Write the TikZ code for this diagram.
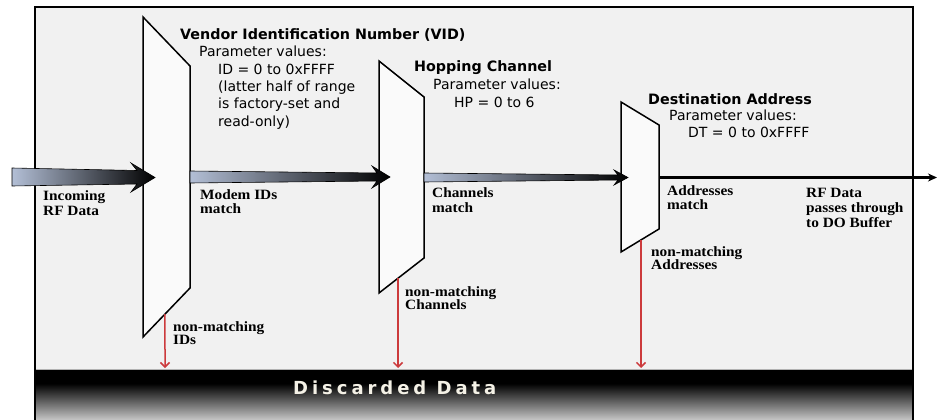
\documentclass[tikz,border=0pt]{standalone}
\usepackage{fontspec}
\setmainfont{DejaVu Sans}
\newfontfamily\labfont[FakeStretch=1.08]{Liberation Serif}
\newfontfamily\discfont[LetterSpace=22]{DejaVu Sans}
\usetikzlibrary{arrows.meta,calc}
\definecolor{panel}{HTML}{F1F1F1}
\definecolor{filt}{HTML}{FAFAFA}
\definecolor{steel}{HTML}{B3BFD6}
\definecolor{rejred}{HTML}{CC3A3C}
\definecolor{disctext}{HTML}{F4F1E6}
\begin{document}
\begin{tikzpicture}[x=1pt,y=-1pt,
  sanst/.style={anchor=base west,inner sep=0pt,font=\fontsize{14}{17}\selectfont},
  sansb/.style={anchor=base west,inner sep=0pt,font=\fontsize{14.3}{17}\selectfont\bfseries},
  lab/.style={anchor=base west,inner sep=0pt,font=\labfont\bfseries\fontsize{14.2}{15}\selectfont},
  filter/.style={fill=filt,draw=black,line width=1.5pt,line join=miter},
  flow/.style={left color=steel,right color=black,draw=black,line width=0.6pt},
  reject/.style={draw=rejred,line width=1.5pt,-{Straight Barb[length=4.5pt,width=9pt,line width=1.5pt]}},
]
\useasboundingbox (0,0) rectangle (938,420);
\begin{scope}
\clip (0,0) rectangle (938,420);
\fill[panel] (35,7) rectangle (913,430);
\fill[black] (35,370) rectangle (913,384);
\shade[top color=black,bottom color=gray!40] (35,383.5) rectangle (913,421);
\draw[gray!60,line width=0.8pt] (35,369.5) -- (913,369.5);
\draw[line width=1.5pt] (35,430) -- (35,7) -- (913,7) -- (913,430);
\end{scope}

% filters
\draw[filter] (143,17) coordinate (f1a) -- (190,66) coordinate (f1b) -- (190,288) coordinate (f1c) -- (143,337) coordinate (f1d) -- cycle;
\draw[filter] (379,61) coordinate (f2a) -- (424,97) coordinate (f2b) -- (424,258) coordinate (f2c) -- (379,293) coordinate (f2d) -- cycle;
\draw[filter] (621,102) coordinate (f3a) -- (659,125) coordinate (f3b) -- (659,229) coordinate (f3c) -- (621,252) coordinate (f3d) -- cycle;

% data flow arrows
\path[flow] (12,168) -- (137,170.5) -- (131,163) -- (155,177.5) -- (131,192) -- (137,184) -- (12,186) -- cycle;
\path[flow] (190,171) -- (377,173) -- (372,166) -- (390,177) -- (372,188) -- (377,181) -- (190,183) -- cycle;
\path[flow] (424,173) -- (618,175) -- (614,170) -- (628,177.5) -- (614,185) -- (618,180) -- (424,182) -- cycle;
\coordinate (outend) at (937,177.5);
\draw[line width=2.2pt,-{Stealth[length=9pt,width=8pt]}] (659,177.5) -- (outend);

% reject arrows
\coordinate (d1) at (165,368);
\coordinate (d2) at (398,368);
\coordinate (d3) at (641,368);
\draw[reject] ($(f1c)!0.532!(f1d)$) -- (d1);
\draw[reject] (398,278) -- (d2);
\draw[reject] (641,240) -- (d3);

% VID text
\node[sansb] (vidt) at (180,40) {Vendor Identification Number (VID)};
\node[sanst] (vidp) at (199,57) {Parameter values:};
\node[sanst] (vid1) at (218,75) {ID = 0 to 0xFFFF};
\node[sanst] (vid2) at (218,92) {(latter half of range};
\node[sanst] (vid3) at (218,109) {is factory-set and};
\node[sanst] (vid4) at (218,126) {read-only)};
% Hopping
\node[sansb] (hopt) at (414,72) {Hopping Channel};
\node[sanst] (hopp) at (433,90) {Parameter values:};
\node[sanst] (hop1) at (454,107) {HP = 0 to 6};
% Destination
\node[sansb] (dstt) at (648,104) {Destination Address};
\node[sanst] (dstp) at (669,121) {Parameter values:};
\node[sanst] (dst1) at (688,138) {DT = 0 to 0xFFFF};

% serif labels
\node[lab] (l1a) at (43,200) {Incoming};
\node[lab] (l1b) at (43,215) {RF Data};
\node[lab] (l2a) at (200,199) {Modem IDs};
\node[lab] (l2b) at (200,213) {match};
\node[lab] (l3a) at (432,197) {Channels};
\node[lab] (l3b) at (432,212) {match};
\node[lab] (l4a) at (667,195) {Addresses};
\node[lab] (l4b) at (667,209) {match};
\node[lab] (l5a) at (806,197) {RF Data};
\node[lab] (l5b) at (806,212) {passes through};
\node[lab] (l5c) at (806,227) {to DO Buffer};
\node[lab] (n1a) at (173,331) {non-matching};
\node[lab] (n1b) at (173,344) {IDs};
\node[lab] (n2a) at (405,296) {non-matching};
\node[lab] (n2b) at (405,309) {Channels};
\node[lab] (n3a) at (651,256) {non-matching};
\node[lab] (n3b) at (651,269) {Addresses};

\node[anchor=base west,inner sep=0pt,text=disctext,font=\discfont\bfseries\fontsize{18}{20}\selectfont] (disc) at (293,394) {Discarded Data};
\end{tikzpicture}
\end{document}
